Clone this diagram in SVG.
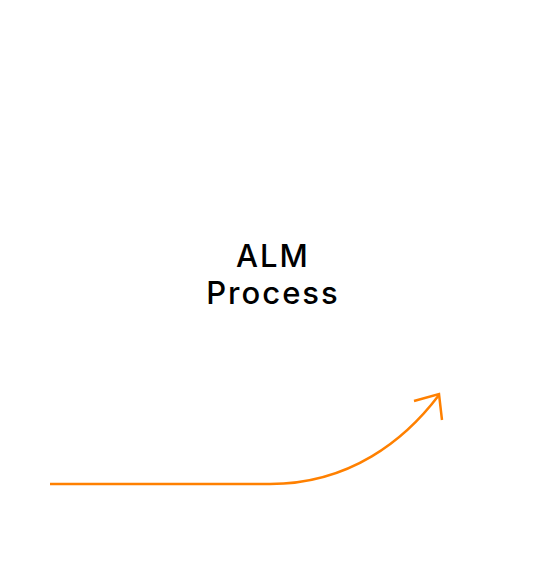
<svg xmlns="http://www.w3.org/2000/svg" width="549" height="577" viewBox="0 0 549 577">
<style>
.lbl{font-family:Inter,"Liberation Sans",Arial,sans-serif;font-size:31px;font-weight:500;fill:#000;text-anchor:middle;letter-spacing:2px}
.conn{fill:none;stroke:#FF8000;stroke-width:2.5;stroke-linecap:butt;stroke-linejoin:miter}
</style>
<rect width="549" height="577" fill="#fff"/>
<g id="node-alm">
<text class="lbl" x="273" y="267">ALM</text>
<text class="lbl" x="273" y="304">Process</text>
</g>
<g id="connectors">
<path class="conn" d="M50,484 L270,484 C350,484 405,440 439,395"/>
<path class="conn" d="M414,401 L439,394 L442,420"/>
</g>
</svg>
